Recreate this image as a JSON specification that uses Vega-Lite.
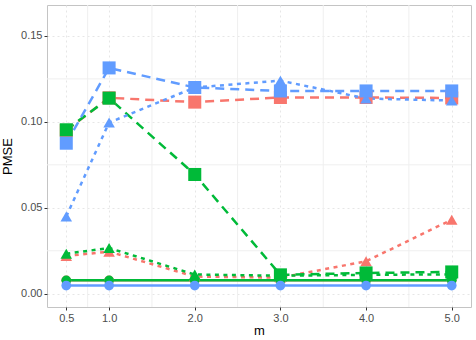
{
  "$schema": "https://vega.github.io/schema/vega-lite/v6.json",
  "autosize": {"type": "none"},
  "padding": {"left": 47, "top": 5, "right": 5, "bottom": 33},
  "width": 424,
  "height": 302,
  "background": "white",
  "config": {
    "view": {"stroke": "#C4C4C4", "strokeWidth": 1},
    "axis": {
      "labelFont": "Liberation Sans",
      "titleFont": "Liberation Sans",
      "labelFontSize": 11,
      "labelColor": "#4D4D4D",
      "titleFontSize": 13,
      "titleFontWeight": "normal",
      "titleColor": "#000000",
      "tickColor": "#333333",
      "tickSize": 3,
      "labelPadding": 2,
      "domain": false,
      "gridColor": "#E6E6E6",
      "gridDash": [2, 3],
      "gridWidth": 1
    }
  },
  "datasets": {
    "series": [
      {"m": 0.5, "pmse": 0.0078, "grp": "a", "kind": "circle"},
      {"m": 1.0, "pmse": 0.0078, "grp": "a", "kind": "circle"},
      {"m": 2.0, "pmse": 0.0078, "grp": "a", "kind": "circle"},
      {"m": 3.0, "pmse": 0.0078, "grp": "a", "kind": "circle"},
      {"m": 4.0, "pmse": 0.0078, "grp": "a", "kind": "circle"},
      {"m": 5.0, "pmse": 0.0078, "grp": "a", "kind": "circle"},
      {"m": 0.5, "pmse": 0.0220, "grp": "a", "kind": "triangle"},
      {"m": 1.0, "pmse": 0.0245, "grp": "a", "kind": "triangle"},
      {"m": 2.0, "pmse": 0.0100, "grp": "a", "kind": "triangle"},
      {"m": 3.0, "pmse": 0.0094, "grp": "a", "kind": "triangle"},
      {"m": 4.0, "pmse": 0.0189, "grp": "a", "kind": "triangle"},
      {"m": 5.0, "pmse": 0.0431, "grp": "a", "kind": "triangle"},
      {"m": 0.5, "pmse": 0.0950, "grp": "a", "kind": "square"},
      {"m": 1.0, "pmse": 0.1140, "grp": "a", "kind": "square"},
      {"m": 2.0, "pmse": 0.1115, "grp": "a", "kind": "square"},
      {"m": 3.0, "pmse": 0.1142, "grp": "a", "kind": "square"},
      {"m": 4.0, "pmse": 0.1142, "grp": "a", "kind": "square"},
      {"m": 5.0, "pmse": 0.1139, "grp": "a", "kind": "square"},
      {"m": 0.5, "pmse": 0.0078, "grp": "b", "kind": "circle"},
      {"m": 1.0, "pmse": 0.0078, "grp": "b", "kind": "circle"},
      {"m": 2.0, "pmse": 0.0078, "grp": "b", "kind": "circle"},
      {"m": 3.0, "pmse": 0.0078, "grp": "b", "kind": "circle"},
      {"m": 4.0, "pmse": 0.0078, "grp": "b", "kind": "circle"},
      {"m": 5.0, "pmse": 0.0078, "grp": "b", "kind": "circle"},
      {"m": 0.5, "pmse": 0.0233, "grp": "b", "kind": "triangle"},
      {"m": 1.0, "pmse": 0.0266, "grp": "b", "kind": "triangle"},
      {"m": 2.0, "pmse": 0.0112, "grp": "b", "kind": "triangle"},
      {"m": 3.0, "pmse": 0.0105, "grp": "b", "kind": "triangle"},
      {"m": 4.0, "pmse": 0.0110, "grp": "b", "kind": "triangle"},
      {"m": 5.0, "pmse": 0.0113, "grp": "b", "kind": "triangle"},
      {"m": 0.5, "pmse": 0.0954, "grp": "b", "kind": "square"},
      {"m": 1.0, "pmse": 0.1138, "grp": "b", "kind": "square"},
      {"m": 2.0, "pmse": 0.0694, "grp": "b", "kind": "square"},
      {"m": 3.0, "pmse": 0.0110, "grp": "b", "kind": "square"},
      {"m": 4.0, "pmse": 0.0121, "grp": "b", "kind": "square"},
      {"m": 5.0, "pmse": 0.0127, "grp": "b", "kind": "square"},
      {"m": 0.5, "pmse": 0.0048, "grp": "c", "kind": "circle"},
      {"m": 1.0, "pmse": 0.0048, "grp": "c", "kind": "circle"},
      {"m": 2.0, "pmse": 0.0048, "grp": "c", "kind": "circle"},
      {"m": 3.0, "pmse": 0.0048, "grp": "c", "kind": "circle"},
      {"m": 4.0, "pmse": 0.0048, "grp": "c", "kind": "circle"},
      {"m": 5.0, "pmse": 0.0048, "grp": "c", "kind": "circle"},
      {"m": 0.5, "pmse": 0.0450, "grp": "c", "kind": "triangle"},
      {"m": 1.0, "pmse": 0.0996, "grp": "c", "kind": "triangle"},
      {"m": 2.0, "pmse": 0.1200, "grp": "c", "kind": "triangle"},
      {"m": 3.0, "pmse": 0.1240, "grp": "c", "kind": "triangle"},
      {"m": 4.0, "pmse": 0.1136, "grp": "c", "kind": "triangle"},
      {"m": 5.0, "pmse": 0.1124, "grp": "c", "kind": "triangle"},
      {"m": 0.5, "pmse": 0.0876, "grp": "c", "kind": "square"},
      {"m": 1.0, "pmse": 0.1314, "grp": "c", "kind": "square"},
      {"m": 2.0, "pmse": 0.1200, "grp": "c", "kind": "square"},
      {"m": 3.0, "pmse": 0.1180, "grp": "c", "kind": "square"},
      {"m": 4.0, "pmse": 0.1180, "grp": "c", "kind": "square"},
      {"m": 5.0, "pmse": 0.1180, "grp": "c", "kind": "square"}
    ],
    "minorx": [{"v": 0.75}, {"v": 1.5}, {"v": 2.5}, {"v": 3.5}, {"v": 4.5}],
    "minory": [{"v": 0.025}, {"v": 0.075}, {"v": 0.125}]
  },
  "layer": [
    {
      "data": {"name": "minorx"},
      "mark": {"type": "rule", "color": "#EFEFEF", "strokeWidth": 1},
      "encoding": {
        "x": {"field": "v", "type": "quantitative", "scale": {"domain": [0.275, 5.225], "nice": false, "zero": false}}
      }
    },
    {
      "data": {"name": "minory"},
      "mark": {"type": "rule", "color": "#EFEFEF", "strokeWidth": 1},
      "encoding": {
        "y": {"field": "v", "type": "quantitative", "scale": {"domain": [-0.0077, 0.168], "nice": false, "zero": false}}
      }
    },
    {
      "data": {"name": "series"},
      "mark": {"type": "line", "strokeWidth": 2.5},
      "encoding": {
        "x": {"field": "m", "type": "quantitative", "title": "m",
          "scale": {"domain": [0.275, 5.225], "nice": false, "zero": false},
          "axis": {"values": [0.5, 1, 2, 3, 4, 5], "format": ".1f", "grid": true, "titlePadding": 1}},
        "y": {"field": "pmse", "type": "quantitative", "title": "PMSE",
          "scale": {"domain": [-0.0077, 0.168], "nice": false, "zero": false},
          "axis": {"values": [0, 0.05, 0.1, 0.15], "format": ".2f", "grid": true, "titlePadding": 6}},
        "color": {"field": "grp", "type": "nominal", "legend": null,
          "scale": {"domain": ["a", "b", "c"], "range": ["#F8766D", "#00BA38", "#619CFF"]}},
        "strokeDash": {"field": "kind", "type": "nominal", "legend": null,
          "scale": {"domain": ["circle", "triangle", "square"], "range": [[1, 0], [4, 4.5], [9, 6]]}},
        "detail": {"field": "kind"},
        "order": {"field": "m", "type": "quantitative"}
      }
    },
    {
      "data": {"name": "series"},
      "mark": {"type": "point", "filled": true, "opacity": 1},
      "encoding": {
        "x": {"field": "m", "type": "quantitative"},
        "y": {"field": "pmse", "type": "quantitative"},
        "color": {"field": "grp", "type": "nominal", "legend": null},
        "shape": {"field": "kind", "type": "nominal", "legend": null,
          "scale": {"domain": ["circle", "triangle", "square"], "range": ["circle", "triangle-up", "square"]}},
        "size": {"field": "kind", "type": "nominal", "legend": null,
          "scale": {"domain": ["circle", "triangle", "square"], "range": [95, 170, 100]}}
      }
    }
  ]
}
